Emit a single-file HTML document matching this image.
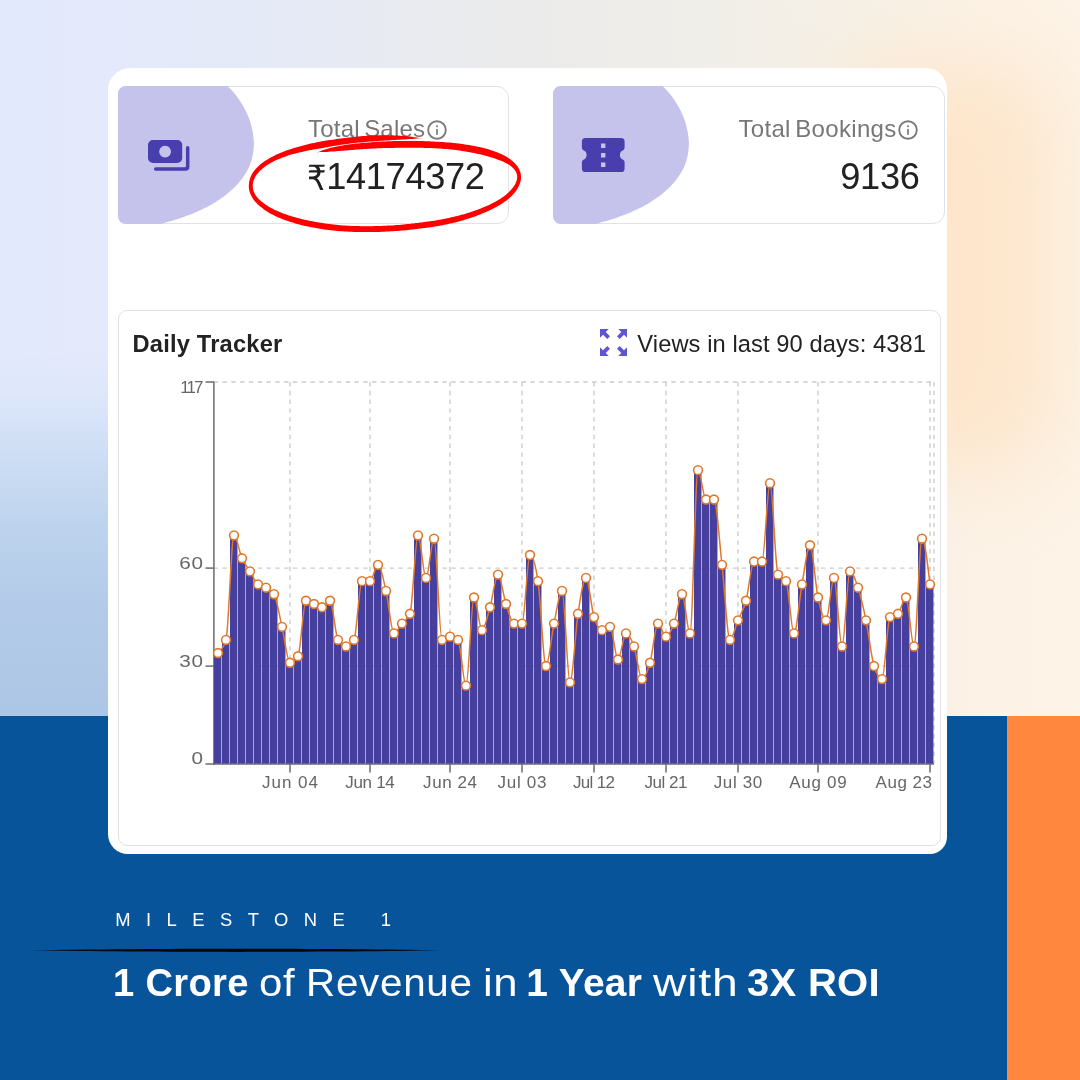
<!DOCTYPE html>
<html lang="en">
<head>
<meta charset="utf-8">
<title>Milestone 1</title>
<style>
*{box-sizing:border-box;margin:0;padding:0}
html,body{width:1080px;height:1080px;overflow:hidden;background:#ececec}
body{position:relative;font-family:"Liberation Sans",sans-serif}
.bg{position:absolute;left:0;top:0;width:1080px;height:730px;
 background:linear-gradient(to right, #e3e9fd 0px, #e5eaf8 250px, #ebebeb 520px, #f0eee9 700px, #f6f0e6 850px, #fcf2e5 980px, #fdf3e6 1080px)}
.bgblue{position:absolute;left:0;top:0;width:600px;height:716px;
 background:linear-gradient(to bottom, rgba(221,231,250,0) 355px, rgba(221,231,250,1) 395px, rgba(213,226,247,1) 425px, rgba(204,221,244,1) 460px, rgba(196,216,240,1) 495px, rgba(189,211,237,1) 530px, rgba(180,204,233,1) 595px, rgba(172,198,229,1) 716px);
 -webkit-mask-image:linear-gradient(to right,#000 0,#000 200px,transparent 600px);mask-image:linear-gradient(to right,#000 0,#000 200px,transparent 600px)}
.bgpeach{position:absolute;left:830px;top:62px;width:225px;height:410px;border-radius:70px;background:#fde6cc;filter:blur(38px)}
.blue{position:absolute;left:0;top:716px;width:1007px;height:364px;background:#07549b}
.orange{position:absolute;left:1007px;top:716px;width:73px;height:364px;background:#ff883e}
.card{position:absolute;left:108px;top:68px;width:838.5px;height:786px;background:#fff;border-radius:22px 21px 17px 20px}
.stat{position:absolute;top:86px;height:138px;border:1.4px solid #e2e2e2;border-radius:12px;background:#fff}
.stat svg{position:absolute;left:-1.4px;top:-1.4px}
.t{position:absolute;line-height:1;white-space:nowrap;transform-origin:0 0;display:block}
.lbl{color:#777777}
.val{color:#212121}
.hd{color:#222222}
.wh{color:#ffffff}
.chartcard{position:absolute;left:118px;top:310px;width:823px;height:536px;border:1.4px solid #e2e2e2;border-radius:9px;background:#fff}
</style>
</head>
<body>
<div class="bg"></div>
<div class="bgblue"></div>
<div class="bgpeach"></div>
<div class="blue"></div>
<div class="orange"></div>
<div class="card"></div>

<div class="stat" style="left:118px;width:391px">
 <svg width="391" height="138" viewBox="0 0 391 138"><path d="M7.5,0 L109.6,0.0 110.5,1.0 111.5,1.9 112.4,2.9 113.4,4.0 114.3,5.0 115.3,6.1 116.2,7.2 117.2,8.3 118.1,9.5 119.0,10.7 120.0,12.0 120.9,13.3 121.8,14.7 122.7,16.1 123.6,17.5 124.5,19.0 125.4,20.5 126.2,22.0 127.0,23.5 127.8,25.1 128.6,26.7 129.3,28.3 130.0,29.9 130.7,31.6 131.3,33.4 131.9,35.1 132.5,36.9 133.0,38.8 133.5,40.6 133.9,42.4 134.3,44.3 134.7,46.1 135.0,47.8 135.2,49.5 135.4,51.0 135.6,52.5 135.7,53.9 135.8,55.2 135.9,56.4 135.9,57.6 135.9,58.8 135.8,60.0 135.8,61.3 135.6,62.6 135.5,64.0 135.3,65.5 135.1,67.0 134.8,68.5 134.5,70.0 134.2,71.6 133.8,73.1 133.4,74.7 132.9,76.2 132.3,77.8 131.7,79.3 131.0,80.9 130.3,82.4 129.5,83.9 128.7,85.5 127.8,87.0 126.8,88.6 125.8,90.1 124.7,91.7 123.6,93.2 122.4,94.8 121.1,96.3 119.8,97.8 118.4,99.4 116.9,100.9 115.3,102.5 113.6,104.0 111.9,105.6 110.1,107.1 108.2,108.7 106.2,110.2 104.0,111.8 101.8,113.3 99.5,114.8 97.0,116.4 94.5,117.9 91.8,119.4 89.1,120.9 86.2,122.3 83.3,123.8 80.4,125.1 77.4,126.4 74.3,127.7 71.2,128.9 68.1,130.1 65.0,131.2 62.0,132.2 59.1,133.2 56.3,134.1 53.7,134.9 51.4,135.6 49.4,136.1 47.7,136.6 46.2,137.0 45.0,137.4 44.1,137.6 43.3,137.8 42.5,138.0 H7.5 A7.5,7.5 0 0 1 0,130.5 V7.5 A7.5,7.5 0 0 1 7.5,0 Z" fill="#c5c3ec"/>
 <g fill="#483eae"><path fill-rule="evenodd" d="M35,54 h24.2 a5,5 0 0 1 5,5 v13 a5,5 0 0 1 -5,5 h-24.2 a5,5 0 0 1 -5,-5 v-13 a5,5 0 0 1 5,-5 z M47.1,59.7 a5.9,5.9 0 1 0 0.01,0 z"/><path d="M69.7,60 a1.75,1.75 0 0 1 1.75,1.75 v19 a4,4 0 0 1 -4,4 h-29.8 a1.75,1.75 0 0 1 0,-3.5 h29.3 a1,1 0 0 0 1,-1 v-18.5 a1.75,1.75 0 0 1 1.75,-1.75 z"/></g></svg>
</div>
<span class="t lbl" id="l1" style="left:308.1px;top:117.1px;font-size:24.0px;letter-spacing:0.2px;word-spacing:-2.5px;">Total Sales</span>
<svg style="position:absolute;left:427.3px;top:120.1px" width="20" height="20" viewBox="0 0 20 20"><circle cx="10" cy="10" r="8.8" fill="none" stroke="#7c7c7c" stroke-width="1.9"/><rect x="9.1" y="8.9" width="1.8" height="5.9" fill="#808080"/><rect x="9.1" y="5.3" width="1.8" height="1.9" fill="#808080"/></svg>
<span class="t val" id="rs" style="left:307.4px;top:160.9px;font-size:34.7px;letter-spacing:0px;transform:scaleX(0.886);font-family:'DejaVu Sans',sans-serif;">₹</span><span class="t val" id="v1" style="left:326.15px;top:159.0px;font-size:36.2px;letter-spacing:-0.31px;">14174372</span>

<div class="stat" style="left:553.6px;width:391px">
 <svg width="391" height="138" viewBox="0 0 391 138"><path d="M7.5,0 L109.6,0.0 110.5,1.0 111.5,1.9 112.4,2.9 113.4,4.0 114.3,5.0 115.3,6.1 116.2,7.2 117.2,8.3 118.1,9.5 119.0,10.7 120.0,12.0 120.9,13.3 121.8,14.7 122.7,16.1 123.6,17.5 124.5,19.0 125.4,20.5 126.2,22.0 127.0,23.5 127.8,25.1 128.6,26.7 129.3,28.3 130.0,29.9 130.7,31.6 131.3,33.4 131.9,35.1 132.5,36.9 133.0,38.8 133.5,40.6 133.9,42.4 134.3,44.3 134.7,46.1 135.0,47.8 135.2,49.5 135.4,51.0 135.6,52.5 135.7,53.9 135.8,55.2 135.9,56.4 135.9,57.6 135.9,58.8 135.8,60.0 135.8,61.3 135.6,62.6 135.5,64.0 135.3,65.5 135.1,67.0 134.8,68.5 134.5,70.0 134.2,71.6 133.8,73.1 133.4,74.7 132.9,76.2 132.3,77.8 131.7,79.3 131.0,80.9 130.3,82.4 129.5,83.9 128.7,85.5 127.8,87.0 126.8,88.6 125.8,90.1 124.7,91.7 123.6,93.2 122.4,94.8 121.1,96.3 119.8,97.8 118.4,99.4 116.9,100.9 115.3,102.5 113.6,104.0 111.9,105.6 110.1,107.1 108.2,108.7 106.2,110.2 104.0,111.8 101.8,113.3 99.5,114.8 97.0,116.4 94.5,117.9 91.8,119.4 89.1,120.9 86.2,122.3 83.3,123.8 80.4,125.1 77.4,126.4 74.3,127.7 71.2,128.9 68.1,130.1 65.0,131.2 62.0,132.2 59.1,133.2 56.3,134.1 53.7,134.9 51.4,135.6 49.4,136.1 47.7,136.6 46.2,137.0 45.0,137.4 44.1,137.6 43.3,137.8 42.5,138.0 H7.5 A7.5,7.5 0 0 1 0,130.5 V7.5 A7.5,7.5 0 0 1 7.5,0 Z" fill="#c5c3ec"/>
 <g fill="#483eae"><path fill-rule="evenodd" d="M32.5,52 h35.5 a3.6,3.6 0 0 1 3.6,3.6 v6.2 q0,1.6 -1.5,2.4 a5.2,5.2 0 0 0 0,9.6 q1.5,0.8 1.5,2.4 v6.2 a3.6,3.6 0 0 1 -3.6,3.6 h-35.5 a3.6,3.6 0 0 1 -3.6,-3.6 v-6.2 q0,-1.6 1.5,-2.4 a5.2,5.2 0 0 0 0,-9.6 q-1.5,-0.8 -1.5,-2.4 v-6.2 a3.6,3.6 0 0 1 3.6,-3.6 z M48,57.5 h4.4 v4.4 h-4.4 z M48,67 h4.4 v4.4 h-4.4 z M48,76.6 h4.4 v4.4 h-4.4 z"/></g></svg>
</div>
<span class="t lbl" id="l2" style="left:738.4px;top:117.1px;font-size:24.0px;letter-spacing:0.33px;word-spacing:-2.5px;">Total Bookings</span>
<svg style="position:absolute;left:898.1px;top:120.1px" width="20" height="20" viewBox="0 0 20 20"><circle cx="10" cy="10" r="8.8" fill="none" stroke="#7c7c7c" stroke-width="1.9"/><rect x="9.1" y="8.9" width="1.8" height="5.9" fill="#808080"/><rect x="9.1" y="5.3" width="1.8" height="1.9" fill="#808080"/></svg>
<span class="t val" id="v2" style="left:840.25px;top:159.1px;font-size:36.2px;letter-spacing:-0.27px;">9136</span>

<svg id="ring" style="position:absolute;left:0;top:0" width="1080" height="300" viewBox="0 0 1080 300"><path d="M316.6,152.6 L318.2,152.3 L320.0,152.1 L321.7,152.1 L323.5,152.1 L325.3,152.0 L327.0,151.9 L328.8,151.7 L330.6,151.6 L332.4,151.5 L334.2,151.4 L336.0,151.2 L337.9,151.1 L339.7,151.0 L341.5,150.8 L343.4,150.7 L345.2,150.5 L347.1,150.4 L348.9,150.2 L350.8,150.1 L352.7,149.9 L354.6,149.8 L356.4,149.6 L358.3,149.5 L360.2,149.3 L362.1,149.2 L364.0,149.1 L365.9,149.0 L367.9,148.8 L369.8,148.7 L371.7,148.6 L373.7,148.5 L375.6,148.4 L377.6,148.3 L379.5,148.3 L381.5,148.2 L383.5,148.1 L385.4,148.1 L387.4,148.0 L389.4,148.0 L391.4,147.9 L393.5,147.9 L395.5,147.8 L397.5,147.8 L399.5,147.8 L401.6,147.7 L403.7,147.7 L405.7,147.7 L407.8,147.7 L409.9,147.7 L412.0,147.7 L414.1,147.7 L416.2,147.7 L418.3,147.8 L420.5,147.8 L422.6,147.8 L424.8,147.9 L426.9,147.9 L429.1,148.0 L431.3,148.1 L433.5,148.2 L435.6,148.3 L437.8,148.4 L440.0,148.5 L442.2,148.7 L444.4,148.9 L446.6,149.1 L448.8,149.3 L451.0,149.5 L453.1,149.7 L455.3,150.0 L457.4,150.3 L459.6,150.6 L461.7,150.9 L463.8,151.2 L465.9,151.6 L468.0,151.9 L470.0,152.3 L472.0,152.7 L474.1,153.1 L476.0,153.5 L478.0,153.9 L479.9,154.3 L481.8,154.8 L483.7,155.3 L485.5,155.7 L487.4,156.2 L489.1,156.7 L490.8,157.2 L492.5,157.7 L494.2,158.3 L495.7,158.8 L497.3,159.4 L498.8,159.9 L500.2,160.5 L501.6,161.0 L502.9,161.6 L504.2,162.2 L505.4,162.8 L506.6,163.4 L507.7,164.0 L508.7,164.6 L509.7,165.2 L510.6,165.9 L511.4,166.5 L512.2,167.2 L512.9,167.9 L513.6,168.5 L514.2,169.2 L514.7,169.9 L515.2,170.5 L515.6,171.2 L516.0,171.9 L516.3,172.6 L516.5,173.3 L516.8,174.0 L516.9,174.7 L517.1,175.3 L517.1,176.0 L517.2,176.7 L517.2,177.4 L517.1,178.1 L517.0,178.8 L516.9,179.5 L516.7,180.2 L516.5,180.9 L516.3,181.6 L516.0,182.3 L515.7,183.0 L515.4,183.7 L515.0,184.4 L514.7,185.0 L514.2,185.7 L513.8,186.4 L513.3,187.1 L512.8,187.8 L512.2,188.4 L511.7,189.1 L511.1,189.8 L510.5,190.4 L509.8,191.1 L509.2,191.8 L508.5,192.4 L507.8,193.1 L507.1,193.8 L506.3,194.4 L505.5,195.1 L504.7,195.7 L503.9,196.4 L503.0,197.0 L502.1,197.6 L501.2,198.3 L500.2,198.9 L499.2,199.5 L498.2,200.1 L497.1,200.7 L496.1,201.3 L495.0,201.9 L493.8,202.5 L492.7,203.1 L491.5,203.7 L490.3,204.3 L489.1,204.9 L487.9,205.4 L486.6,206.0 L485.4,206.5 L484.1,207.1 L482.8,207.6 L481.4,208.2 L480.1,208.7 L478.7,209.2 L477.3,209.8 L475.9,210.3 L474.5,210.8 L473.1,211.3 L471.6,211.8 L470.1,212.3 L468.6,212.8 L467.0,213.2 L465.5,213.7 L463.9,214.2 L462.3,214.6 L460.7,215.1 L459.0,215.5 L457.4,215.9 L455.7,216.3 L454.0,216.7 L452.2,217.1 L450.5,217.5 L448.7,217.9 L446.9,218.3 L445.1,218.7 L443.3,219.0 L441.4,219.4 L439.6,219.7 L437.7,220.0 L435.8,220.4 L433.8,220.7 L431.9,221.0 L430.0,221.3 L428.0,221.6 L426.0,221.8 L424.0,222.1 L422.0,222.4 L420.0,222.6 L418.0,222.9 L415.9,223.1 L413.9,223.4 L411.8,223.6 L409.7,223.9 L407.6,224.1 L405.5,224.3 L403.4,224.5 L401.3,224.7 L399.1,224.9 L397.0,225.1 L394.8,225.2 L392.6,225.4 L390.4,225.5 L388.2,225.6 L386.0,225.7 L383.8,225.8 L381.6,225.9 L379.3,226.0 L377.1,226.1 L374.8,226.1 L372.5,226.2 L370.2,226.2 L368.0,226.2 L365.7,226.2 L363.4,226.2 L361.1,226.2 L358.8,226.1 L356.5,226.1 L354.2,226.0 L351.9,225.9 L349.6,225.8 L347.3,225.7 L345.0,225.5 L342.7,225.4 L340.4,225.2 L338.2,225.0 L335.9,224.8 L333.7,224.5 L331.5,224.3 L329.3,224.0 L327.1,223.7 L324.9,223.4 L322.8,223.1 L320.6,222.8 L318.5,222.4 L316.4,222.1 L314.4,221.7 L312.3,221.3 L310.3,220.9 L308.3,220.5 L306.3,220.1 L304.4,219.7 L302.4,219.2 L300.5,218.8 L298.7,218.3 L296.8,217.8 L295.0,217.3 L293.3,216.8 L291.5,216.3 L289.8,215.7 L288.2,215.2 L286.5,214.6 L284.9,214.1 L283.4,213.5 L281.9,212.9 L280.4,212.3 L278.9,211.7 L277.5,211.1 L276.2,210.5 L274.8,209.9 L273.6,209.2 L272.3,208.6 L271.1,208.0 L269.9,207.3 L268.8,206.7 L267.7,206.0 L266.7,205.3 L265.7,204.7 L264.7,204.0 L263.8,203.3 L262.9,202.6 L262.0,202.0 L261.2,201.3 L260.4,200.6 L259.6,199.9 L258.9,199.2 L258.3,198.5 L257.6,197.8 L257.0,197.1 L256.5,196.4 L256.0,195.7 L255.5,195.0 L255.1,194.3 L254.7,193.6 L254.4,192.9 L254.1,192.2 L253.8,191.5 L253.5,190.8 L253.3,190.1 L253.2,189.4 L253.0,188.7 L252.9,188.0 L252.8,187.3 L252.8,186.6 L252.8,185.9 L252.8,185.2 L252.8,184.5 L252.9,183.8 L253.0,183.1 L253.1,182.4 L253.3,181.7 L253.5,181.0 L253.7,180.3 L254.0,179.6 L254.3,178.9 L254.6,178.2 L254.9,177.5 L255.3,176.8 L255.7,176.1 L256.1,175.4 L256.6,174.7 L257.1,174.1 L257.7,173.4 L258.2,172.7 L258.9,172.0 L259.5,171.3 L260.2,170.6 L260.9,169.9 L261.7,169.2 L262.5,168.5 L263.3,167.9 L264.2,167.2 L265.1,166.5 L266.0,165.8 L267.0,165.2 L268.1,164.5 L269.1,163.9 L270.2,163.2 L271.4,162.6 L272.6,162.0 L273.8,161.3 L275.0,160.7 L276.3,160.1 L277.7,159.5 L279.1,158.9 L280.5,158.4 L281.9,157.8 L283.4,157.2 L284.9,156.7 L286.5,156.2 L288.0,155.6 L289.6,155.1 L291.3,154.6 L293.0,154.1 L294.7,153.7 L296.4,153.2 L298.2,152.7 L300.0,152.3 L301.8,151.9 L303.6,151.5 L305.5,151.1 L307.4,150.7 L309.3,150.3 L311.2,150.0 L313.2,149.6 L315.1,149.3 L317.1,148.9 L319.1,148.6 L321.1,148.2 L323.1,147.9 L325.1,147.5 L327.1,147.2 L329.1,146.8 L331.2,146.5 L333.2,146.1 L335.3,145.8 L337.3,145.4 L339.4,145.1 L341.5,144.8 L343.6,144.5 L345.7,144.2 L347.8,143.9 L350.0,143.6 L352.1,143.3 L354.3,143.1 L356.4,142.8 L358.6,142.6 L360.9,142.4 L363.1,142.2 L365.3,142.0 L367.6,141.8 L369.8,141.6 L372.1,141.5 L374.4,141.3 L376.6,141.2 L378.9,141.0 L381.3,140.8 L383.6,140.7 L385.9,140.5 L388.2,140.4 L390.6,140.2 L392.9,140.1 L395.3,140.0 L397.6,139.8 L400.0,139.7 L402.3,139.5 L404.7,139.4 L407.1,139.3 L409.5,139.1 L411.9,139.0 L414.3,138.7 L416.7,138.4 L419.1,138.2 L421.5,138.3 L421.5,138.1 L419.1,137.9 L416.7,137.6 L414.3,137.2 L411.9,136.7 L409.5,136.5 L407.2,136.3 L404.8,136.0 L402.4,135.9 L400.0,135.7 L397.6,135.6 L395.2,135.4 L392.8,135.4 L390.5,135.3 L388.1,135.3 L385.7,135.2 L383.4,135.2 L381.0,135.2 L378.7,135.3 L376.4,135.3 L374.0,135.4 L371.7,135.5 L369.4,135.6 L367.1,135.8 L364.8,136.0 L362.6,136.1 L360.3,136.3 L358.1,136.5 L355.8,136.8 L353.6,137.0 L351.4,137.2 L349.2,137.5 L347.0,137.7 L344.9,138.0 L342.7,138.2 L340.6,138.5 L338.5,138.8 L336.4,139.1 L334.3,139.4 L332.2,139.7 L330.1,140.0 L328.0,140.3 L326.0,140.6 L323.9,140.9 L321.9,141.3 L319.9,141.7 L317.9,142.1 L315.9,142.5 L313.9,142.9 L311.9,143.3 L309.9,143.8 L308.0,144.2 L306.0,144.7 L304.1,145.2 L302.2,145.7 L300.4,146.2 L298.5,146.7 L296.7,147.2 L294.9,147.8 L293.1,148.3 L291.4,148.9 L289.6,149.4 L288.0,150.0 L286.3,150.6 L284.7,151.2 L283.1,151.8 L281.5,152.4 L280.0,153.1 L278.5,153.7 L277.0,154.3 L275.6,155.0 L274.2,155.7 L272.9,156.4 L271.6,157.0 L270.3,157.7 L269.1,158.4 L267.9,159.2 L266.7,159.9 L265.6,160.6 L264.5,161.3 L263.4,162.1 L262.4,162.8 L261.4,163.6 L260.5,164.3 L259.6,165.1 L258.7,165.9 L257.9,166.7 L257.1,167.5 L256.3,168.3 L255.6,169.1 L254.9,169.9 L254.3,170.7 L253.6,171.5 L253.1,172.3 L252.5,173.1 L252.0,174.0 L251.6,174.8 L251.2,175.7 L250.8,176.5 L250.4,177.4 L250.1,178.2 L249.8,179.1 L249.6,179.9 L249.4,180.8 L249.2,181.6 L249.1,182.5 L249.0,183.3 L248.9,184.2 L248.9,185.1 L248.8,185.9 L248.8,186.8 L248.9,187.7 L249.0,188.5 L249.1,189.4 L249.2,190.3 L249.4,191.1 L249.7,192.0 L250.0,192.9 L250.3,193.8 L250.7,194.6 L251.1,195.5 L251.5,196.3 L252.0,197.2 L252.6,198.0 L253.1,198.9 L253.7,199.7 L254.3,200.5 L255.0,201.4 L255.7,202.2 L256.5,203.0 L257.3,203.9 L258.1,204.7 L259.0,205.5 L259.9,206.3 L260.9,207.1 L261.8,207.8 L262.9,208.6 L263.9,209.4 L265.0,210.2 L266.2,210.9 L267.4,211.7 L268.6,212.4 L269.8,213.2 L271.1,213.9 L272.5,214.6 L273.8,215.3 L275.3,216.0 L276.7,216.7 L278.2,217.4 L279.8,218.0 L281.4,218.7 L283.0,219.3 L284.6,219.9 L286.3,220.6 L288.0,221.1 L289.8,221.7 L291.6,222.3 L293.4,222.8 L295.3,223.4 L297.2,223.9 L299.1,224.4 L301.1,224.9 L303.0,225.4 L305.0,225.9 L307.0,226.3 L309.1,226.7 L311.2,227.2 L313.3,227.6 L315.4,228.0 L317.5,228.3 L319.7,228.7 L321.9,229.0 L324.1,229.4 L326.3,229.7 L328.5,230.0 L330.8,230.2 L333.0,230.5 L335.3,230.7 L337.6,231.0 L339.9,231.2 L342.3,231.3 L344.6,231.5 L346.9,231.6 L349.3,231.7 L351.6,231.8 L354.0,231.9 L356.3,232.0 L358.6,232.0 L361.0,232.1 L363.3,232.1 L365.7,232.1 L368.0,232.1 L370.3,232.1 L372.6,232.0 L374.9,232.0 L377.2,231.9 L379.5,231.9 L381.8,231.8 L384.0,231.7 L386.3,231.6 L388.5,231.5 L390.8,231.3 L393.0,231.2 L395.2,231.1 L397.4,230.9 L399.6,230.7 L401.8,230.6 L403.9,230.4 L406.1,230.2 L408.2,230.0 L410.3,229.8 L412.5,229.6 L414.5,229.3 L416.6,229.1 L418.7,228.8 L420.8,228.6 L422.8,228.3 L424.8,228.0 L426.8,227.8 L428.8,227.5 L430.8,227.2 L432.8,226.9 L434.8,226.5 L436.7,226.2 L438.7,225.9 L440.6,225.5 L442.5,225.2 L444.4,224.8 L446.3,224.4 L448.1,224.0 L450.0,223.6 L451.8,223.2 L453.6,222.8 L455.3,222.4 L457.1,221.9 L458.8,221.4 L460.5,221.0 L462.2,220.5 L463.9,220.0 L465.5,219.5 L467.1,219.0 L468.7,218.5 L470.3,218.0 L471.8,217.5 L473.4,217.0 L474.9,216.4 L476.4,215.9 L477.8,215.3 L479.3,214.8 L480.7,214.2 L482.1,213.6 L483.5,213.1 L484.8,212.5 L486.2,211.9 L487.5,211.3 L488.8,210.7 L490.1,210.1 L491.3,209.5 L492.6,208.9 L493.8,208.2 L495.0,207.6 L496.2,207.0 L497.4,206.3 L498.5,205.7 L499.6,205.0 L500.7,204.4 L501.8,203.7 L502.9,203.0 L503.9,202.3 L504.9,201.6 L505.9,200.9 L506.8,200.2 L507.7,199.5 L508.6,198.8 L509.5,198.1 L510.3,197.3 L511.1,196.6 L511.9,195.8 L512.6,195.1 L513.3,194.3 L514.0,193.5 L514.6,192.8 L515.2,192.0 L515.8,191.2 L516.4,190.4 L516.9,189.6 L517.4,188.7 L517.9,187.9 L518.3,187.1 L518.8,186.3 L519.1,185.4 L519.5,184.6 L519.8,183.7 L520.1,182.9 L520.4,182.0 L520.6,181.1 L520.8,180.2 L520.9,179.3 L521.0,178.5 L521.0,177.6 L521.0,176.7 L521.0,175.7 L520.9,174.8 L520.7,173.9 L520.6,173.0 L520.3,172.1 L520.0,171.2 L519.6,170.2 L519.2,169.3 L518.7,168.4 L518.2,167.5 L517.6,166.6 L517.0,165.7 L516.2,164.8 L515.5,163.9 L514.6,163.0 L513.7,162.2 L512.7,161.3 L511.7,160.4 L510.6,159.6 L509.4,158.8 L508.2,157.9 L507.0,157.1 L505.6,156.3 L504.2,155.6 L502.8,154.8 L501.2,154.1 L499.7,153.4 L498.1,152.7 L496.4,152.0 L494.7,151.4 L492.9,150.8 L491.1,150.2 L489.3,149.6 L487.4,149.1 L485.5,148.5 L483.5,148.0 L481.5,147.6 L479.5,147.1 L477.5,146.7 L475.4,146.2 L473.3,145.8 L471.2,145.5 L469.1,145.1 L467.0,144.7 L464.8,144.4 L462.7,144.1 L460.5,143.8 L458.3,143.5 L456.1,143.3 L453.9,143.1 L451.6,142.8 L449.4,142.6 L447.2,142.4 L444.9,142.3 L442.7,142.1 L440.5,141.9 L438.2,141.8 L436.0,141.7 L433.8,141.5 L431.6,141.4 L429.3,141.3 L427.1,141.2 L425.0,141.2 L422.8,141.1 L420.6,141.0 L418.4,141.0 L416.3,141.0 L414.1,140.9 L412.0,140.9 L409.9,140.9 L407.8,140.9 L405.7,140.9 L403.6,140.9 L401.5,140.9 L399.4,141.0 L397.4,141.0 L395.3,141.1 L393.3,141.1 L391.3,141.2 L389.2,141.3 L387.2,141.3 L385.2,141.4 L383.2,141.5 L381.2,141.6 L379.2,141.7 L377.2,141.8 L375.3,142.0 L373.3,142.1 L371.3,142.2 L369.4,142.4 L367.4,142.5 L365.5,142.7 L363.6,142.8 L361.6,143.0 L359.7,143.2 L357.8,143.4 L355.9,143.6 L354.0,143.8 L352.1,144.0 L350.2,144.3 L348.3,144.5 L346.4,144.8 L344.6,145.1 L342.7,145.4 L340.9,145.7 L339.0,146.1 L337.2,146.4 L335.4,146.8 L333.6,147.2 L331.8,147.6 L330.0,148.1 L328.3,148.6 L326.5,149.1 L324.8,149.6 L323.1,150.1 L321.5,150.8 L319.8,151.4 L318.2,152.0 L316.5,152.4Z" fill="#ff0000"/></svg>

<div class="chartcard"></div>
<span class="t hd" id="h1" style="left:132.5px;top:332.8px;font-size:23.7px;letter-spacing:0.19px;font-weight:bold;">Daily Tracker</span>
<svg style="position:absolute;left:600.2px;top:329.2px" width="27" height="27" viewBox="0 0 27 27"><g fill="#5f55d0"><path d="M0,0 H8.7 L5.7,3 L10,7.3 L7.3,10 L3,5.7 L0,8.7 Z"/><path d="M27,0 H18.3 L21.3,3 L17,7.3 L19.7,10 L24,5.7 L27,8.7 Z"/><path d="M0,27 H8.7 L5.7,24 L10,19.7 L7.3,17 L3,21.3 L0,18.3 Z"/><path d="M27,27 H18.3 L21.3,24 L17,19.7 L19.7,17 L24,21.3 L27,18.3 Z"/></g></svg>
<span class="t hd" id="h2" style="left:637.35px;top:332.7px;font-size:23.7px;letter-spacing:0.08px;">Views in last 90 days: 4381</span>
<svg id="chart" width="1080" height="1080" viewBox="0 0 1080 1080" style="position:absolute;left:0;top:0">
<g stroke="#cccccc" stroke-width="1.4" stroke-dasharray="4.4 4.4" fill="none"><line x1="290.0" y1="382.0" x2="290.0" y2="764.0"/><line x1="370.0" y1="382.0" x2="370.0" y2="764.0"/><line x1="450.0" y1="382.0" x2="450.0" y2="764.0"/><line x1="522.0" y1="382.0" x2="522.0" y2="764.0"/><line x1="594.0" y1="382.0" x2="594.0" y2="764.0"/><line x1="666.0" y1="382.0" x2="666.0" y2="764.0"/><line x1="738.0" y1="382.0" x2="738.0" y2="764.0"/><line x1="818.0" y1="382.0" x2="818.0" y2="764.0"/><line x1="930.0" y1="382.0" x2="930.0" y2="764.0"/><line x1="934.0" y1="382.0" x2="934.0" y2="764.0"/><line x1="213.7" y1="666.1" x2="934.0" y2="666.1"/><line x1="213.7" y1="568.1" x2="934.0" y2="568.1"/><line x1="213.7" y1="382.0" x2="934.0" y2="382.0"/></g>
<g stroke="#6b6b6b" stroke-width="1.5" fill="none"><line x1="213.9" y1="382.0" x2="213.9" y2="764.7"/><line x1="213.2" y1="764.0" x2="934.0" y2="764.0"/><line x1="205.5" y1="764.0" x2="214.0" y2="764.0"/><line x1="205.5" y1="666.1" x2="214.0" y2="666.1"/><line x1="205.5" y1="568.1" x2="214.0" y2="568.1"/><line x1="205.5" y1="382.0" x2="214.0" y2="382.0"/><line x1="290.0" y1="764.0" x2="290.0" y2="772.6"/><line x1="370.0" y1="764.0" x2="370.0" y2="772.6"/><line x1="450.0" y1="764.0" x2="450.0" y2="772.6"/><line x1="522.0" y1="764.0" x2="522.0" y2="772.6"/><line x1="594.0" y1="764.0" x2="594.0" y2="772.6"/><line x1="666.0" y1="764.0" x2="666.0" y2="772.6"/><line x1="738.0" y1="764.0" x2="738.0" y2="772.6"/><line x1="818.0" y1="764.0" x2="818.0" y2="772.6"/><line x1="930.0" y1="764.0" x2="930.0" y2="772.6"/></g>
<g fill="#463f9e"><rect x="214.00" y="652.99" width="7.45" height="110.61"/><rect x="222.00" y="639.93" width="7.45" height="123.67"/><rect x="230.00" y="535.45" width="7.45" height="228.15"/><rect x="238.00" y="558.31" width="7.45" height="205.29"/><rect x="246.00" y="571.37" width="7.45" height="192.23"/><rect x="254.00" y="584.43" width="7.45" height="179.17"/><rect x="262.00" y="587.69" width="7.45" height="175.91"/><rect x="270.00" y="594.22" width="7.45" height="169.38"/><rect x="278.00" y="626.87" width="7.45" height="136.73"/><rect x="286.00" y="662.79" width="7.45" height="100.81"/><rect x="294.00" y="656.26" width="7.45" height="107.34"/><rect x="302.00" y="600.75" width="7.45" height="162.85"/><rect x="310.00" y="604.02" width="7.45" height="159.58"/><rect x="318.00" y="607.28" width="7.45" height="156.32"/><rect x="326.00" y="600.75" width="7.45" height="162.85"/><rect x="334.00" y="639.93" width="7.45" height="123.67"/><rect x="342.00" y="646.46" width="7.45" height="117.14"/><rect x="350.00" y="639.93" width="7.45" height="123.67"/><rect x="358.00" y="581.16" width="7.45" height="182.44"/><rect x="366.00" y="581.16" width="7.45" height="182.44"/><rect x="374.00" y="564.84" width="7.45" height="198.76"/><rect x="382.00" y="590.96" width="7.45" height="172.64"/><rect x="390.00" y="633.40" width="7.45" height="130.20"/><rect x="398.00" y="623.61" width="7.45" height="139.99"/><rect x="406.00" y="613.81" width="7.45" height="149.79"/><rect x="414.00" y="535.45" width="7.45" height="228.15"/><rect x="422.00" y="577.90" width="7.45" height="185.70"/><rect x="430.00" y="538.72" width="7.45" height="224.88"/><rect x="438.00" y="639.93" width="7.45" height="123.67"/><rect x="446.00" y="636.67" width="7.45" height="126.93"/><rect x="454.00" y="639.93" width="7.45" height="123.67"/><rect x="462.00" y="685.64" width="7.45" height="77.96"/><rect x="470.00" y="597.49" width="7.45" height="166.11"/><rect x="478.00" y="630.14" width="7.45" height="133.46"/><rect x="486.00" y="607.28" width="7.45" height="156.32"/><rect x="494.00" y="574.63" width="7.45" height="188.97"/><rect x="502.00" y="604.02" width="7.45" height="159.58"/><rect x="510.00" y="623.61" width="7.45" height="139.99"/><rect x="518.00" y="623.61" width="7.45" height="139.99"/><rect x="526.00" y="555.04" width="7.45" height="208.56"/><rect x="534.00" y="581.16" width="7.45" height="182.44"/><rect x="542.00" y="666.05" width="7.45" height="97.55"/><rect x="550.00" y="623.61" width="7.45" height="139.99"/><rect x="558.00" y="590.96" width="7.45" height="172.64"/><rect x="566.00" y="682.38" width="7.45" height="81.22"/><rect x="574.00" y="613.81" width="7.45" height="149.79"/><rect x="582.00" y="577.90" width="7.45" height="185.70"/><rect x="590.00" y="617.08" width="7.45" height="146.52"/><rect x="598.00" y="630.14" width="7.45" height="133.46"/><rect x="606.00" y="626.87" width="7.45" height="136.73"/><rect x="614.00" y="659.52" width="7.45" height="104.08"/><rect x="622.00" y="633.40" width="7.45" height="130.20"/><rect x="630.00" y="646.46" width="7.45" height="117.14"/><rect x="638.00" y="679.11" width="7.45" height="84.49"/><rect x="646.00" y="662.79" width="7.45" height="100.81"/><rect x="654.00" y="623.61" width="7.45" height="139.99"/><rect x="662.00" y="636.67" width="7.45" height="126.93"/><rect x="670.00" y="623.61" width="7.45" height="139.99"/><rect x="678.00" y="594.22" width="7.45" height="169.38"/><rect x="686.00" y="633.40" width="7.45" height="130.20"/><rect x="694.00" y="470.15" width="7.45" height="293.45"/><rect x="702.00" y="499.54" width="7.45" height="264.06"/><rect x="710.00" y="499.54" width="7.45" height="264.06"/><rect x="718.00" y="564.84" width="7.45" height="198.76"/><rect x="726.00" y="639.93" width="7.45" height="123.67"/><rect x="734.00" y="620.34" width="7.45" height="143.26"/><rect x="742.00" y="600.75" width="7.45" height="162.85"/><rect x="750.00" y="561.57" width="7.45" height="202.03"/><rect x="758.00" y="561.57" width="7.45" height="202.03"/><rect x="766.00" y="483.21" width="7.45" height="280.39"/><rect x="774.00" y="574.63" width="7.45" height="188.97"/><rect x="782.00" y="581.16" width="7.45" height="182.44"/><rect x="790.00" y="633.40" width="7.45" height="130.20"/><rect x="798.00" y="584.43" width="7.45" height="179.17"/><rect x="806.00" y="545.25" width="7.45" height="218.35"/><rect x="814.00" y="597.49" width="7.45" height="166.11"/><rect x="822.00" y="620.34" width="7.45" height="143.26"/><rect x="830.00" y="577.90" width="7.45" height="185.70"/><rect x="838.00" y="646.46" width="7.45" height="117.14"/><rect x="846.00" y="571.37" width="7.45" height="192.23"/><rect x="854.00" y="587.69" width="7.45" height="175.91"/><rect x="862.00" y="620.34" width="7.45" height="143.26"/><rect x="870.00" y="666.05" width="7.45" height="97.55"/><rect x="878.00" y="679.11" width="7.45" height="84.49"/><rect x="886.00" y="617.08" width="7.45" height="146.52"/><rect x="894.00" y="613.81" width="7.45" height="149.79"/><rect x="902.00" y="597.49" width="7.45" height="166.11"/><rect x="910.00" y="646.46" width="7.45" height="117.14"/><rect x="918.00" y="538.72" width="7.45" height="224.88"/><rect x="926.00" y="584.43" width="7.45" height="179.17"/></g>
<path d="M218.0,652.99 C220.67,650.81 223.33,648.64 226.0,639.93 C228.67,631.23 231.33,535.45 234.0,535.45 C236.67,535.45 239.33,552.32 242.0,558.31 C244.67,564.29 247.33,567.01 250.0,571.37 C252.67,575.72 255.33,582.25 258.0,584.43 C260.67,586.60 263.33,586.06 266.0,587.69 C268.67,589.32 271.33,589.87 274.0,594.22 C276.67,598.58 279.33,615.44 282.0,626.87 C284.67,638.30 287.33,662.79 290.0,662.79 C292.67,662.79 295.33,660.61 298.0,656.26 C300.67,651.90 303.33,600.75 306.0,600.75 C308.67,600.75 311.33,602.93 314.0,604.02 C316.67,605.11 319.33,607.28 322.0,607.28 C324.67,607.28 327.33,600.75 330.0,600.75 C332.67,600.75 335.33,635.58 338.0,639.93 C340.67,644.28 343.33,646.46 346.0,646.46 C348.67,646.46 351.33,644.28 354.0,639.93 C356.67,635.58 359.33,581.16 362.0,581.16 C364.67,581.16 367.33,581.16 370.0,581.16 C372.67,581.16 375.33,564.84 378.0,564.84 C380.67,564.84 383.33,579.53 386.0,590.96 C388.67,602.38 391.33,633.40 394.0,633.40 C396.67,633.40 399.33,626.87 402.0,623.61 C404.67,620.34 407.33,620.34 410.0,613.81 C412.67,607.28 415.33,535.45 418.0,535.45 C420.67,535.45 423.33,577.90 426.0,577.90 C428.67,577.90 431.33,538.72 434.0,538.72 C436.67,538.72 439.33,639.93 442.0,639.93 C444.67,639.93 447.33,636.67 450.0,636.67 C452.67,636.67 455.33,637.75 458.0,639.93 C460.67,642.11 463.33,685.64 466.0,685.64 C468.67,685.64 471.33,597.49 474.0,597.49 C476.67,597.49 479.33,630.14 482.0,630.14 C484.67,630.14 487.33,616.53 490.0,607.28 C492.67,598.03 495.33,574.63 498.0,574.63 C500.67,574.63 503.33,595.85 506.0,604.02 C508.67,612.18 511.33,623.61 514.0,623.61 C516.67,623.61 519.33,623.61 522.0,623.61 C524.67,623.61 527.33,555.04 530.0,555.04 C532.67,555.04 535.33,563.75 538.0,581.16 C540.67,598.58 543.33,666.05 546.0,666.05 C548.67,666.05 551.33,636.12 554.0,623.61 C556.67,611.09 559.33,590.96 562.0,590.96 C564.67,590.96 567.33,682.38 570.0,682.38 C572.67,682.38 575.33,631.23 578.0,613.81 C580.67,596.40 583.33,577.90 586.0,577.90 C588.67,577.90 591.33,608.37 594.0,617.08 C596.67,625.78 599.33,630.14 602.0,630.14 C604.67,630.14 607.33,626.87 610.0,626.87 C612.67,626.87 615.33,659.52 618.0,659.52 C620.67,659.52 623.33,633.40 626.0,633.40 C628.67,633.40 631.33,638.84 634.0,646.46 C636.67,654.08 639.33,679.11 642.0,679.11 C644.67,679.11 647.33,672.04 650.0,662.79 C652.67,653.54 655.33,623.61 658.0,623.61 C660.67,623.61 663.33,636.67 666.0,636.67 C668.67,636.67 671.33,630.68 674.0,623.61 C676.67,616.53 679.33,594.22 682.0,594.22 C684.67,594.22 687.33,633.40 690.0,633.40 C692.67,633.40 695.33,470.15 698.0,470.15 C700.67,470.15 703.33,499.54 706.0,499.54 C708.67,499.54 711.33,499.54 714.0,499.54 C716.67,499.54 719.33,541.44 722.0,564.84 C724.67,588.24 727.33,639.93 730.0,639.93 C732.67,639.93 735.33,626.87 738.0,620.34 C740.67,613.81 743.33,610.55 746.0,600.75 C748.67,590.96 751.33,561.57 754.0,561.57 C756.67,561.57 759.33,561.57 762.0,561.57 C764.67,561.57 767.33,483.21 770.0,483.21 C772.67,483.21 775.33,570.28 778.0,574.63 C780.67,578.99 783.33,576.81 786.0,581.16 C788.67,585.52 791.33,633.40 794.0,633.40 C796.67,633.40 799.33,599.12 802.0,584.43 C804.67,569.74 807.33,545.25 810.0,545.25 C812.67,545.25 815.33,584.97 818.0,597.49 C820.67,610.00 823.33,620.34 826.0,620.34 C828.67,620.34 831.33,577.90 834.0,577.90 C836.67,577.90 839.33,646.46 842.0,646.46 C844.67,646.46 847.33,571.37 850.0,571.37 C852.67,571.37 855.33,579.53 858.0,587.69 C860.67,595.85 863.33,607.28 866.0,620.34 C868.67,633.40 871.33,657.34 874.0,666.05 C876.67,674.76 879.33,679.11 882.0,679.11 C884.67,679.11 887.33,619.25 890.0,617.08 C892.67,614.90 895.33,615.99 898.0,613.81 C900.67,611.64 903.33,597.49 906.0,597.49 C908.67,597.49 911.33,646.46 914.0,646.46 C916.67,646.46 919.33,538.72 922.0,538.72 C924.67,538.72 927.33,561.57 930.0,584.43" fill="none" stroke="#e0782a" stroke-width="1.5" stroke-linejoin="round"/>
<g fill="#ffffff" stroke="#e0782a" stroke-width="1.6"><circle cx="218.0" cy="652.99" r="4.4"/><circle cx="226.0" cy="639.93" r="4.4"/><circle cx="234.0" cy="535.45" r="4.4"/><circle cx="242.0" cy="558.31" r="4.4"/><circle cx="250.0" cy="571.37" r="4.4"/><circle cx="258.0" cy="584.43" r="4.4"/><circle cx="266.0" cy="587.69" r="4.4"/><circle cx="274.0" cy="594.22" r="4.4"/><circle cx="282.0" cy="626.87" r="4.4"/><circle cx="290.0" cy="662.79" r="4.4"/><circle cx="298.0" cy="656.26" r="4.4"/><circle cx="306.0" cy="600.75" r="4.4"/><circle cx="314.0" cy="604.02" r="4.4"/><circle cx="322.0" cy="607.28" r="4.4"/><circle cx="330.0" cy="600.75" r="4.4"/><circle cx="338.0" cy="639.93" r="4.4"/><circle cx="346.0" cy="646.46" r="4.4"/><circle cx="354.0" cy="639.93" r="4.4"/><circle cx="362.0" cy="581.16" r="4.4"/><circle cx="370.0" cy="581.16" r="4.4"/><circle cx="378.0" cy="564.84" r="4.4"/><circle cx="386.0" cy="590.96" r="4.4"/><circle cx="394.0" cy="633.40" r="4.4"/><circle cx="402.0" cy="623.61" r="4.4"/><circle cx="410.0" cy="613.81" r="4.4"/><circle cx="418.0" cy="535.45" r="4.4"/><circle cx="426.0" cy="577.90" r="4.4"/><circle cx="434.0" cy="538.72" r="4.4"/><circle cx="442.0" cy="639.93" r="4.4"/><circle cx="450.0" cy="636.67" r="4.4"/><circle cx="458.0" cy="639.93" r="4.4"/><circle cx="466.0" cy="685.64" r="4.4"/><circle cx="474.0" cy="597.49" r="4.4"/><circle cx="482.0" cy="630.14" r="4.4"/><circle cx="490.0" cy="607.28" r="4.4"/><circle cx="498.0" cy="574.63" r="4.4"/><circle cx="506.0" cy="604.02" r="4.4"/><circle cx="514.0" cy="623.61" r="4.4"/><circle cx="522.0" cy="623.61" r="4.4"/><circle cx="530.0" cy="555.04" r="4.4"/><circle cx="538.0" cy="581.16" r="4.4"/><circle cx="546.0" cy="666.05" r="4.4"/><circle cx="554.0" cy="623.61" r="4.4"/><circle cx="562.0" cy="590.96" r="4.4"/><circle cx="570.0" cy="682.38" r="4.4"/><circle cx="578.0" cy="613.81" r="4.4"/><circle cx="586.0" cy="577.90" r="4.4"/><circle cx="594.0" cy="617.08" r="4.4"/><circle cx="602.0" cy="630.14" r="4.4"/><circle cx="610.0" cy="626.87" r="4.4"/><circle cx="618.0" cy="659.52" r="4.4"/><circle cx="626.0" cy="633.40" r="4.4"/><circle cx="634.0" cy="646.46" r="4.4"/><circle cx="642.0" cy="679.11" r="4.4"/><circle cx="650.0" cy="662.79" r="4.4"/><circle cx="658.0" cy="623.61" r="4.4"/><circle cx="666.0" cy="636.67" r="4.4"/><circle cx="674.0" cy="623.61" r="4.4"/><circle cx="682.0" cy="594.22" r="4.4"/><circle cx="690.0" cy="633.40" r="4.4"/><circle cx="698.0" cy="470.15" r="4.4"/><circle cx="706.0" cy="499.54" r="4.4"/><circle cx="714.0" cy="499.54" r="4.4"/><circle cx="722.0" cy="564.84" r="4.4"/><circle cx="730.0" cy="639.93" r="4.4"/><circle cx="738.0" cy="620.34" r="4.4"/><circle cx="746.0" cy="600.75" r="4.4"/><circle cx="754.0" cy="561.57" r="4.4"/><circle cx="762.0" cy="561.57" r="4.4"/><circle cx="770.0" cy="483.21" r="4.4"/><circle cx="778.0" cy="574.63" r="4.4"/><circle cx="786.0" cy="581.16" r="4.4"/><circle cx="794.0" cy="633.40" r="4.4"/><circle cx="802.0" cy="584.43" r="4.4"/><circle cx="810.0" cy="545.25" r="4.4"/><circle cx="818.0" cy="597.49" r="4.4"/><circle cx="826.0" cy="620.34" r="4.4"/><circle cx="834.0" cy="577.90" r="4.4"/><circle cx="842.0" cy="646.46" r="4.4"/><circle cx="850.0" cy="571.37" r="4.4"/><circle cx="858.0" cy="587.69" r="4.4"/><circle cx="866.0" cy="620.34" r="4.4"/><circle cx="874.0" cy="666.05" r="4.4"/><circle cx="882.0" cy="679.11" r="4.4"/><circle cx="890.0" cy="617.08" r="4.4"/><circle cx="898.0" cy="613.81" r="4.4"/><circle cx="906.0" cy="597.49" r="4.4"/><circle cx="914.0" cy="646.46" r="4.4"/><circle cx="922.0" cy="538.72" r="4.4"/><circle cx="930.0" cy="584.43" r="4.4"/></g>
<g font-family="'Liberation Sans', sans-serif" font-size="17" fill="#666666">
<text x="201.6" y="392.6" text-anchor="end" letter-spacing="-1.9">117</text>
<text transform="translate(203.7,764.4) scale(1.22,1)" text-anchor="end" letter-spacing="0.6">0</text>
<text transform="translate(203.7,666.5) scale(1.22,1)" text-anchor="end" letter-spacing="0.6">30</text>
<text transform="translate(203.7,568.5) scale(1.22,1)" text-anchor="end" letter-spacing="0.6">60</text>
<text x="290.50" y="788.3" text-anchor="middle" letter-spacing="1.0">Jun 04</text>
<text x="369.85" y="788.3" text-anchor="middle" letter-spacing="-0.3">Jun 14</text>
<text x="450.27" y="788.3" text-anchor="middle" letter-spacing="0.55">Jun 24</text>
<text x="522.35" y="788.3" text-anchor="middle" letter-spacing="0.7">Jul 03</text>
<text x="593.67" y="788.3" text-anchor="middle" letter-spacing="-0.66">Jul 12</text>
<text x="665.76" y="788.3" text-anchor="middle" letter-spacing="-0.48">Jul 21</text>
<text x="738.33" y="788.3" text-anchor="middle" letter-spacing="0.66">Jul 30</text>
<text x="818.36" y="788.3" text-anchor="middle" letter-spacing="0.72">Aug 09</text>
<text x="932.50" y="788.3" text-anchor="end" letter-spacing="0.5">Aug 23</text>
</g>
</svg>

<span class="t wh" id="ms" style="left:115.2px;top:911.0px;font-size:18.4px;letter-spacing:15.45px;">MILESTONE 1</span>
<svg style="position:absolute;left:0;top:940px" width="480" height="20" viewBox="0 0 480 20"><path d="M30,10.3 C150,8.1 330,8.1 440,10.3 C330,12.4 150,12.4 30,10.3 Z" fill="#06060a"/></svg>
<span class="t wh" id="t1" style="left:113.35px;top:964.4px;font-size:38.9px;letter-spacing:0.33px;font-weight:bold;transform:scaleX(0.98);">1 Crore</span><span class="t wh" id="t2" style="left:259.25px;top:964.4px;font-size:38.9px;letter-spacing:0.74px;transform:scaleX(1.077);">of</span><span class="t wh" id="t3" style="left:306.05px;top:964.4px;font-size:38.9px;letter-spacing:0.71px;transform:scaleX(1.038);">Revenue</span><span class="t wh" id="t4" style="left:483.05px;top:964.4px;font-size:38.9px;letter-spacing:0.49px;transform:scaleX(1.123);">in</span><span class="t wh" id="t5" style="left:526.35px;top:964.4px;font-size:38.9px;letter-spacing:0.34px;font-weight:bold;">1 Year</span><span class="t wh" id="t6" style="left:653.0px;top:964.4px;font-size:38.9px;letter-spacing:0.69px;transform:scaleX(1.19);">with</span><span class="t wh" id="t7" style="left:746.6px;top:964.4px;font-size:38.9px;letter-spacing:0.27px;font-weight:bold;transform:scaleX(1.029);">3X ROI</span>
</body>
</html>
